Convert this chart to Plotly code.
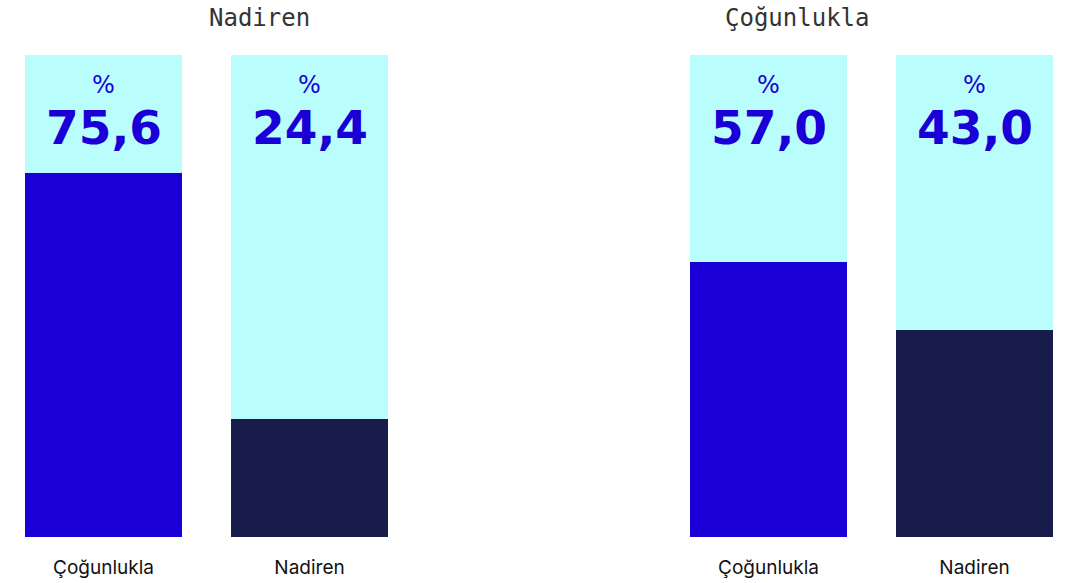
import plotly.graph_objects as go
from plotly.subplots import make_subplots

# Groups (panel titles) and the answer categories inside each panel
groups = ["Nadiren", "Çoğunlukla"]
categories = ["Çoğunlukla", "Nadiren"]

# Share of respondents (%) per panel, in category order
values = {
    "Nadiren": [75.6, 24.4],
    "Çoğunlukla": [57.0, 43.0],
}
value_labels = {
    "Nadiren": ["75,6", "24,4"],
    "Çoğunlukla": ["57,0", "43,0"],
}

BLUE = "#1a00d7"
NAVY = "#171c4b"
CYAN = "#b9fdfd"
bar_colors = [BLUE, NAVY]

fig = make_subplots(rows=1, cols=2, horizontal_spacing=0.2)

for col, grp in enumerate(groups, start=1):
    # full-height background column
    fig.add_trace(go.Bar(
        x=categories, y=[100] * len(categories), width=0.762,
        marker=dict(color=CYAN, line=dict(width=0)),
        hoverinfo="skip", showlegend=False), row=1, col=col)
    # value column
    fig.add_trace(go.Bar(
        x=categories, y=values[grp], width=0.762,
        marker=dict(color=bar_colors, line=dict(width=0)),
        showlegend=False), row=1, col=col)
    xref = "x" if col == 1 else "x2"
    yref = "y" if col == 1 else "y2"
    for cat, lab in zip(categories, value_labels[grp]):
        fig.add_annotation(x=cat, y=93.8, xref=xref, yref=yref, text="%",
                           showarrow=False,
                           font=dict(family="DejaVu Sans", size=24, color=BLUE))
        fig.add_annotation(x=cat, y=85.0, xref=xref, yref=yref,
                           text="<b>" + lab + "</b>", showarrow=False,
                           font=dict(family="DejaVu Sans", size=47, color=BLUE))

# panel titles
fig.add_annotation(x=206.5 / 1065, y=1.0, xref="paper", yref="paper",
                   yshift=53, text=groups[0], showarrow=False,
                   font=dict(family="DejaVu Sans Mono", size=24, color="#333"))
fig.add_annotation(x=871.5 / 1065, y=1.0, xref="paper", yref="paper",
                   yshift=53, text=groups[1], showarrow=False,
                   font=dict(family="DejaVu Sans Mono", size=24, color="#333"))

fig.update_layout(
    width=1065, height=583,
    margin=dict(l=0, r=0, t=55, b=46),
    barmode="overlay", bargap=0,
    plot_bgcolor="white", paper_bgcolor="white",
)
fig.update_xaxes(showgrid=False, zeroline=False, showline=False, ticks="",
                 tickfont=dict(family="Inter", size=19, color="#111"),
                 ticklabelstandoff=17)
fig.update_xaxes(domain=[0, 0.4], range=[-0.5024, 1.5655], row=1, col=1)
fig.update_xaxes(domain=[0.6, 1.0], range=[-0.6286, 1.4393], row=1, col=2)
fig.update_yaxes(range=[0, 100], visible=False, showgrid=False)

fig.write_html("out.html")
